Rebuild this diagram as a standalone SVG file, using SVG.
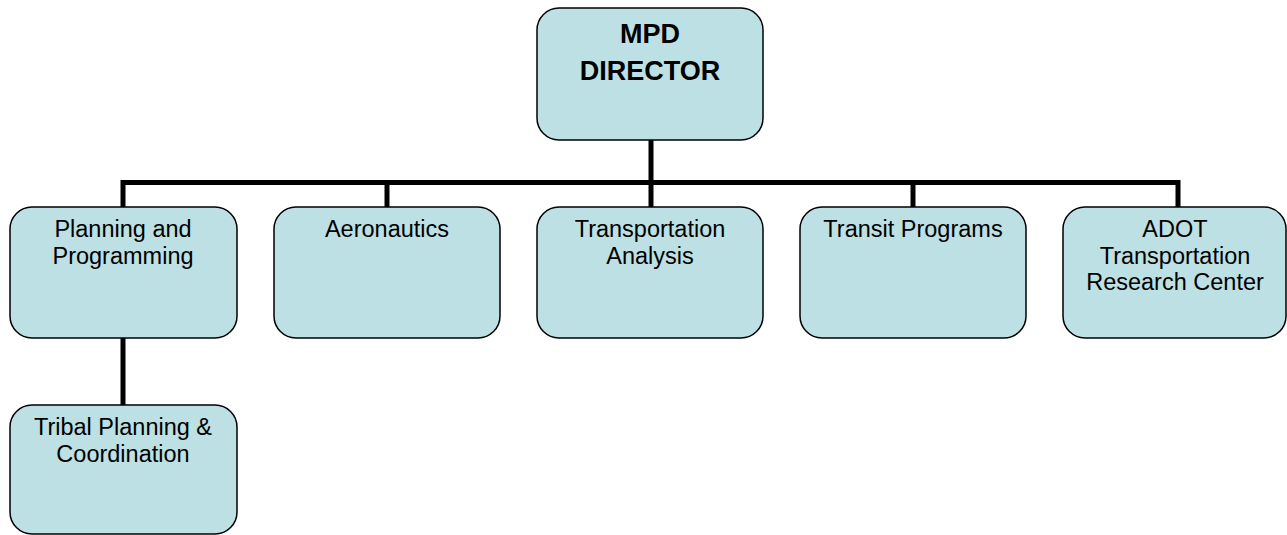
<svg xmlns="http://www.w3.org/2000/svg" width="1287" height="535" viewBox="0 0 1287 535">
  <style>
    .box { fill: #BCE0E3; stroke: #000; stroke-width: 1.5; }
    .lbl { font-family: "Liberation Sans", Arial, sans-serif; font-size: 23.5px; fill: #000; text-anchor: middle; }
    .head { font-family: "Liberation Sans", Arial, sans-serif; font-size: 27px; font-weight: bold; fill: #000; text-anchor: middle; }
    .wire { stroke: #000; stroke-width: 5; fill: none; }
  </style>
  <rect width="1287" height="535" fill="#fff"/>
  <g id="connectors">
    <line class="wire" x1="651" y1="140" x2="651" y2="207"/>
    <polyline class="wire" points="123,207 123,182.5 1178,182.5 1178,207"/>
    <line class="wire" x1="387" y1="182" x2="387" y2="207"/>
    <line class="wire" x1="913" y1="182" x2="913" y2="207"/>
    <line class="wire" x1="123" y1="338" x2="123" y2="405"/>
  </g>
  <g id="director">
    <rect class="box" x="537" y="8" width="226" height="132" rx="22"/>
    <text class="head" x="650" y="43">MPD</text>
    <text class="head" x="650" y="80">DIRECTOR</text>
  </g>
  <g id="planning">
    <rect class="box" x="10" y="207" width="227" height="131" rx="22"/>
    <text class="lbl" x="123" y="237">Planning and</text>
    <text class="lbl" x="123" y="264">Programming</text>
  </g>
  <g id="aeronautics">
    <rect class="box" x="274" y="207" width="226" height="131" rx="22"/>
    <text class="lbl" x="387" y="237">Aeronautics</text>
  </g>
  <g id="transportation-analysis">
    <rect class="box" x="537" y="207" width="226" height="131" rx="22"/>
    <text class="lbl" x="650" y="237">Transportation</text>
    <text class="lbl" x="650" y="264">Analysis</text>
  </g>
  <g id="transit-programs">
    <rect class="box" x="800" y="207" width="226" height="131" rx="22"/>
    <text class="lbl" x="913" y="237">Transit Programs</text>
  </g>
  <g id="adot-trc">
    <rect class="box" x="1063" y="207" width="223" height="131" rx="22"/>
    <text class="lbl" x="1175" y="237">ADOT</text>
    <text class="lbl" x="1175" y="264">Transportation</text>
    <text class="lbl" x="1175" y="290">Research Center</text>
  </g>
  <g id="tribal">
    <rect class="box" x="10" y="405" width="227" height="129" rx="22"/>
    <text class="lbl" x="123" y="435">Tribal Planning &amp;</text>
    <text class="lbl" x="123" y="462">Coordination</text>
  </g>
</svg>
